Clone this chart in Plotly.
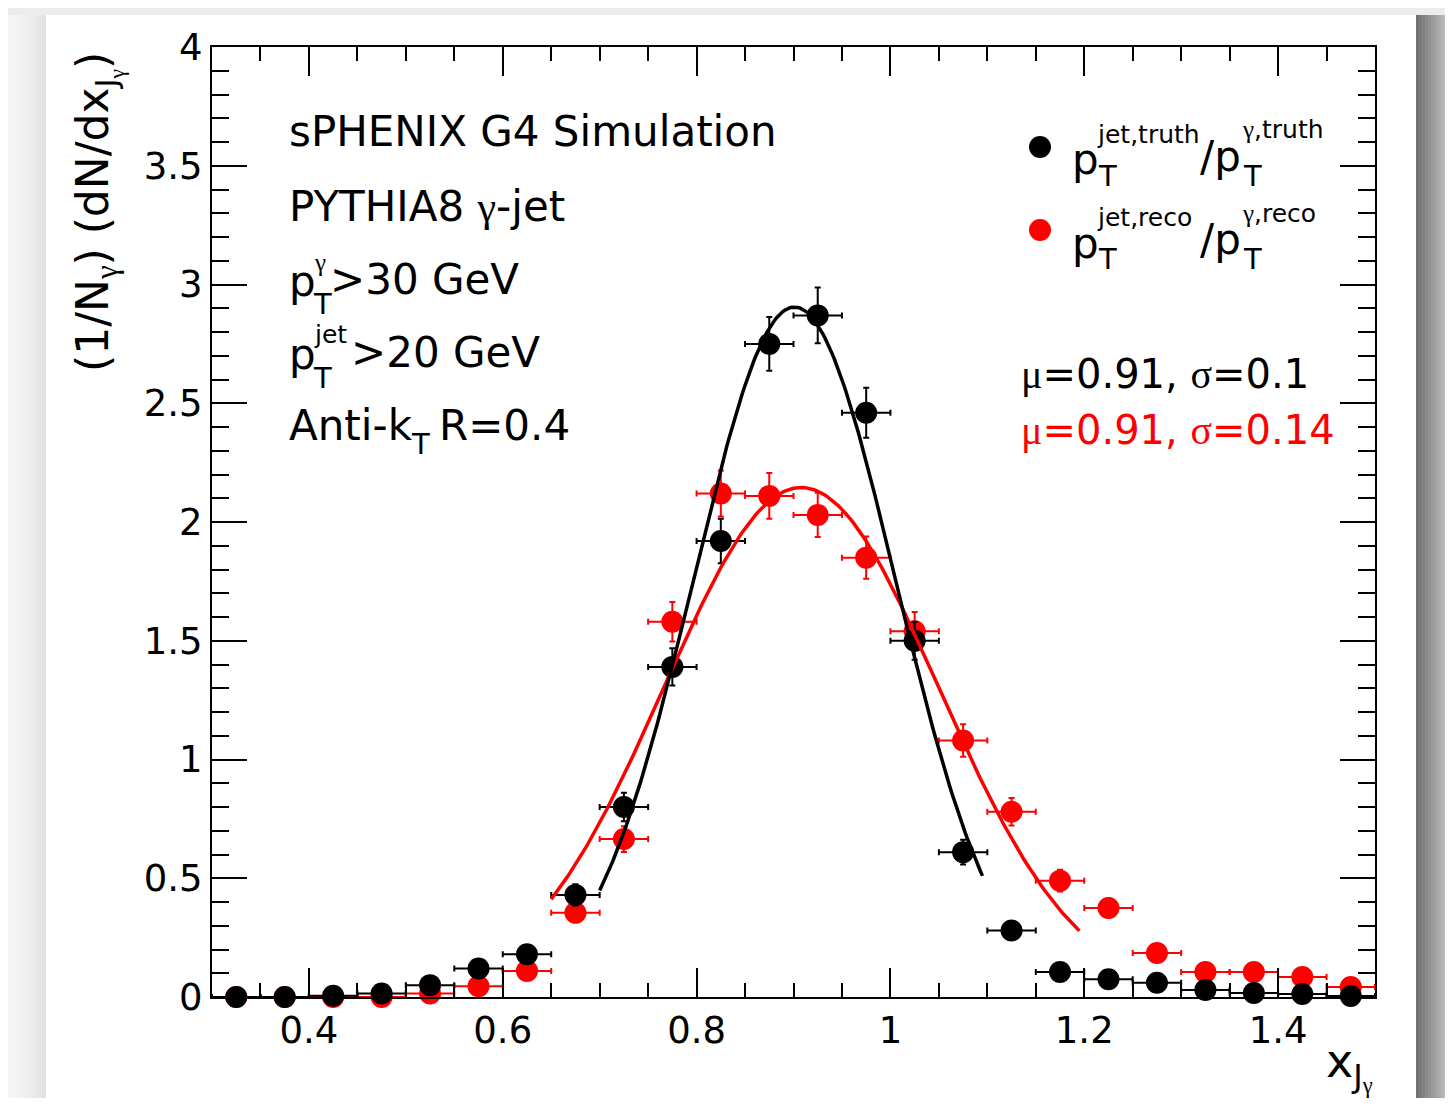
import math
import plotly.graph_objects as go

# ---------------- data ----------------
bin_centers = [0.325, 0.375, 0.425, 0.475, 0.525, 0.575, 0.625, 0.675, 0.725, 0.775, 0.825, 0.875,
               0.925, 0.975, 1.025, 1.075, 1.125, 1.175, 1.225, 1.275, 1.325, 1.375, 1.425, 1.475]
bin_half_width = 0.025

truth_vals = [0.0, 0.0, 0.005, 0.015, 0.05, 0.12, 0.18, 0.43, 0.80, 1.39, 1.92, 2.75,
              2.87, 2.46, 1.50, 0.61, 0.28, 0.105, 0.075, 0.06, 0.03, 0.017, 0.013, 0.004]
truth_errs = [0.0, 0.0, 0.005, 0.008, 0.015, 0.024, 0.03, 0.045, 0.06, 0.078, 0.094, 0.113,
              0.117, 0.105, 0.08, 0.052, 0.035, 0.022, 0.018, 0.016, 0.012, 0.009, 0.008, 0.004]

reco_vals = [0.0, 0.0, 0.0, 0.0, 0.015, 0.045, 0.11, 0.355, 0.665, 1.58, 2.12, 2.11,
             2.03, 1.85, 1.54, 1.08, 0.78, 0.49, 0.375, 0.185, 0.105, 0.105, 0.084, 0.042]
reco_errs = [0.0, 0.0, 0.0, 0.003, 0.008, 0.014, 0.022, 0.04, 0.054, 0.083, 0.097, 0.096,
             0.093, 0.089, 0.081, 0.068, 0.058, 0.046, 0.04, 0.028, 0.021, 0.021, 0.019, 0.013]

# Gaussian fit parameters (amplitude, mean, sigma, fit range)
truth_fit = dict(amp=2.905, mu=0.901, sigma=0.104, lo=0.70, hi=1.095)
reco_fit = dict(amp=2.145, mu=0.908, sigma=0.142, lo=0.65, hi=1.195)

x_tickvals = [0.4, 0.6, 0.8, 1.0, 1.2, 1.4]
x_ticktext = ["0.4", "0.6", "0.8", "1", "1.2", "1.4"]
y_tickvals = [0, 0.5, 1, 1.5, 2, 2.5, 3, 3.5, 4]
y_ticktext = ["0", "0.5", "1", "1.5", "2", "2.5", "3", "3.5", "4"]

# ---------------- layout geometry (page pixels) ----------------
W, H = 1453, 1106
OFF = 8  # default body margin of the html page
FIG_W, FIG_H = W - 2 * OFF, H - 2 * OFF
PL, PR, PT, PB = 212, 1375, 47, 997
FONT = "DejaVu Sans"
SERIF = "Liberation Serif"
RED = "#ff0000"


def fx(px):
    return (px - PL) / (PR - PL)


def fy(py):
    return (PB - py) / (PB - PT)


def gk(c):
    return f'<span style="font-family:{SERIF}">{c}</span>'


def gauss_curve(p, n=200):
    xs = [p["lo"] + (p["hi"] - p["lo"]) * i / (n - 1) for i in range(n)]
    ys = [p["amp"] * math.exp(-0.5 * ((x - p["mu"]) / p["sigma"]) ** 2) for x in xs]
    return xs, ys


fig = go.Figure()

# reco points
fig.add_trace(go.Scatter(
    x=bin_centers, y=reco_vals, mode="markers",
    marker=dict(color=RED, size=22, line=dict(width=0)),
    error_x=dict(type="constant", value=bin_half_width, color=RED, thickness=2, width=3),
    error_y=dict(type="data", array=reco_errs, color=RED, thickness=2, width=3),
    cliponaxis=False, showlegend=False, hoverinfo="skip"))
# truth points
fig.add_trace(go.Scatter(
    x=bin_centers, y=truth_vals, mode="markers",
    marker=dict(color="black", size=22, line=dict(width=0)),
    error_x=dict(type="constant", value=bin_half_width, color="black", thickness=2, width=3),
    error_y=dict(type="data", array=truth_errs, color="black", thickness=2, width=3),
    cliponaxis=False, showlegend=False, hoverinfo="skip"))

rx, ry = gauss_curve(reco_fit)
fig.add_trace(go.Scatter(x=rx, y=ry, mode="lines", line=dict(color=RED, width=3.5),
                         showlegend=False, hoverinfo="skip"))
tx, ty = gauss_curve(truth_fit)
fig.add_trace(go.Scatter(x=tx, y=ty, mode="lines", line=dict(color="black", width=3.5),
                         showlegend=False, hoverinfo="skip"))

# ---------------- background (canvas + shadow) ----------------
shapes = []


def rect(x0, y0, x1, y1, color):
    shapes.append(dict(type="rect", xref="paper", yref="paper", layer="below",
                       x0=fx(x0), x1=fx(x1), y0=fy(y1), y1=fy(y0),
                       fillcolor=color, line=dict(width=0)))


def lerp_gray(a, b, t):
    v = int(round(a + (b - a) * t))
    return f"rgb({v},{v},{v})"


rect(0, 0, W + 5, H + 5, "rgb(236,236,236)")
n = 12
for i in range(n):
    x0 = 46 * i / n
    x1 = 46 * (i + 1) / n
    rect(x0, 15, x1 + 0.5, H + 5, lerp_gray(246, 226, (i / (n - 1)) ** 2))
for i in range(n):
    x0 = 1416 + 37 * i / n
    x1 = 1416 + 37 * (i + 1) / n
    rect(x0, 15, x1 + 0.5, H + 5, lerp_gray(112, 205, i / (n - 1)))
rect(46, 15, 1416, H + 5, "white")

# legend markers
for (cy, col) in [(147, "black"), (230, RED)]:
    shapes.append(dict(type="circle", xref="paper", yref="paper",
                       x0=fx(1029), x1=fx(1051), y0=fy(cy + 11), y1=fy(cy - 11),
                       fillcolor=col, line=dict(width=0)))

# ---------------- text ----------------
annotations = []


def ann(px, py, text, size, color="black", xa="left", ya="middle", family=FONT, angle=0):
    annotations.append(dict(xref="paper", yref="paper", x=fx(px), y=fy(py), text=text,
                            showarrow=False, xanchor=xa, yanchor=ya, textangle=angle,
                            font=dict(family=family, size=size, color=color),
                            borderpad=0))


MAIN = 42
SUP = 25
SUB = 29
ann(288, 131, "sPHENIX G4 Simulation", MAIN)
ann(288, 206, "PYTHIA8 " + gk("γ") + "-jet", MAIN)
# p_T^gamma > 30 GeV
ann(288, 281, "p", MAIN)
ann(313, 262, gk("γ"), SUP)
ann(312, 304, "T", SUB)
ann(329, 279, "&gt;30 GeV", MAIN)
# p_T^jet > 20 GeV
ann(288, 354, "p", MAIN)
ann(313, 334, "jet", SUP)
ann(312, 378, "T", SUB)
ann(350, 352, "&gt;20 GeV", MAIN)
# Anti-kT
ann(288, 425, "Anti-k", MAIN)
ann(410, 444, "T", SUB)
ann(438, 425, "R=0.4", MAIN)

# legend entries
for dy, tag in [(0, "truth"), (83, "reco")]:
    ann(1071, 160 + dy, "p", MAIN)
    ann(1096, 134 + dy, "jet," + tag, SUP)
    ann(1097, 176 + dy, "T", SUB)
    ann(1199, 156 + dy, "/p", MAIN)
    ann(1241, 130 + dy, gk("γ") + "," + tag, SUP)
    ann(1242, 176 + dy, "T", SUB)

ann(1020, 374, gk("μ") + "=0.91, " + gk("σ") + "=0.1", 40)
ann(1020, 430, gk("μ") + "=0.91, " + gk("σ") + "=0.14", 40, color=RED)

# axis titles
ann(98, 212, "(1/N<sub>" + gk("γ") + "</sub>) (dN/dx<sub>J<sub>" + gk("γ") + "</sub></sub>)", 44,
    angle=-90, xa="center", ya="middle")
ann(1374, 1066, "x<sub>J<sub>" + gk("γ") + "</sub></sub>", 46, xa="right", ya="middle")

axis_common = dict(showgrid=False, zeroline=False, showline=True, linecolor="black", linewidth=2,
                   mirror="allticks", ticks="inside", tickcolor="black", tickwidth=2,
                   tickfont=dict(family=FONT, size=37, color="black"))

fig.update_layout(
    width=FIG_W, height=FIG_H, autosize=False,
    margin=dict(l=PL - OFF, r=OFF + FIG_W - PR, t=PT - OFF, b=OFF + FIG_H - PB, pad=0),
    paper_bgcolor="white", plot_bgcolor="white",
    shapes=shapes, annotations=annotations,
    xaxis=dict(range=[0.3, 1.5], tickvals=x_tickvals, ticktext=x_ticktext, ticklen=29,
               minor=dict(dtick=0.05, tick0=0.3, ticklen=14, tickwidth=2, tickcolor="black", ticks="inside"),
               **axis_common),
    yaxis=dict(range=[0, 4], tickvals=y_tickvals, ticktext=y_ticktext, ticklen=35,
               minor=dict(dtick=0.1, tick0=0, ticklen=17, tickwidth=2, tickcolor="black", ticks="inside"),
               **axis_common),
)

fig.write_html("out.html")
